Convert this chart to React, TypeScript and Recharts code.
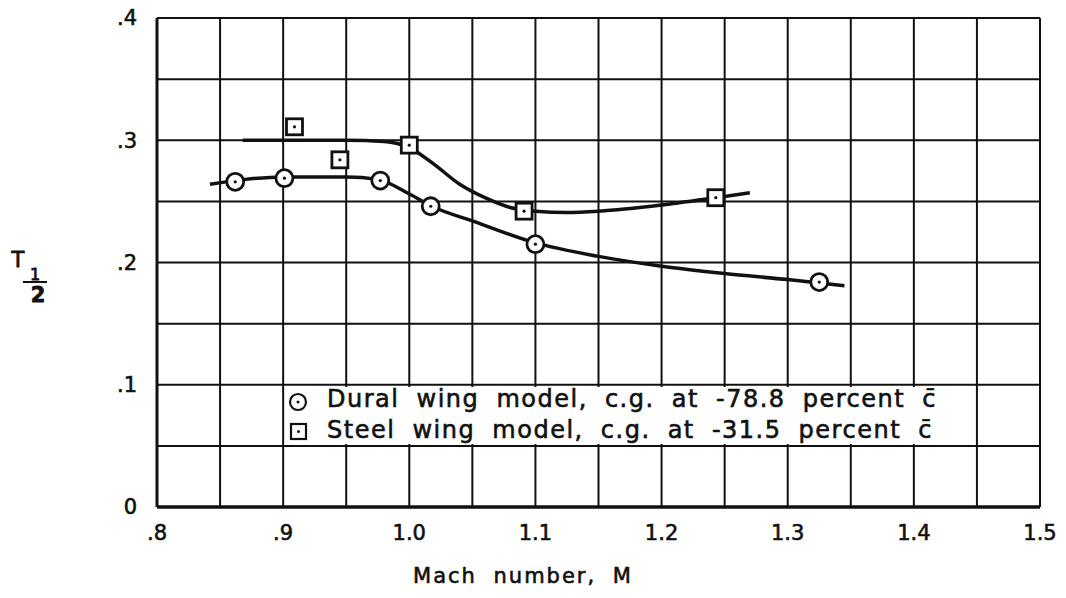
import { CartesianGrid, ComposedChart, Legend, Scatter, XAxis, YAxis } from "recharts";

// grid ticks every 0.05, labels on every other one
const machTicks = [0.8, 0.85, 0.9, 0.95, 1.0, 1.05, 1.1, 1.15, 1.2, 1.25, 1.3, 1.35, 1.4, 1.45, 1.5];
const machTickLabels = [".8", "", ".9", "", "1.0", "", "1.1", "", "1.2", "", "1.3", "", "1.4", "", "1.5"];
const tTicks = [0, 0.05, 0.1, 0.15, 0.2, 0.25, 0.3, 0.35, 0.4];
const tTickLabels = ["0", "", ".1", "", ".2", "", ".3", "", ".4"];

// test points
const duralMach = [0.862, 0.901, 0.977, 1.017, 1.1, 1.325];
const duralT = [0.266, 0.269, 0.267, 0.246, 0.215, 0.184];
const steelMach = [0.909, 0.945, 1.0, 1.091, 1.243];
const steelT = [0.311, 0.284, 0.296, 0.242, 0.253];

// faired curves
const duralCurveMach = [0.842, 0.87, 0.9, 0.95, 0.975, 1.0, 1.02, 1.05, 1.1, 1.15, 1.2, 1.25, 1.3, 1.345];
const duralCurveT = [0.264, 0.268, 0.27, 0.27, 0.268, 0.256, 0.245, 0.234, 0.216, 0.205, 0.197, 0.191, 0.186, 0.181];
const steelCurveMach = [0.868, 0.9, 0.95, 0.98, 1.0, 1.02, 1.04, 1.06, 1.08, 1.1, 1.125, 1.15, 1.2, 1.25, 1.27];
const steelCurveT = [0.3, 0.3, 0.3, 0.299, 0.294, 0.28, 0.264, 0.253, 0.245, 0.242, 0.241, 0.242, 0.247, 0.254, 0.257];

const FONT = "'DejaVu Sans', sans-serif";
const INK = "#111";

const toPoints = (xs: number[], ys: number[]) => xs.map((x, i) => ({ x, y: ys[i] }));

const duralPoints = toPoints(duralMach, duralT);
const steelPoints = toPoints(steelMach, steelT);
const duralCurve = toPoints(duralCurveMach, duralCurveT);
const steelCurve = toPoints(steelCurveMach, steelCurveT);

const tickStyle = { fontSize: 21, fill: INK, fontFamily: FONT, stroke: INK, strokeWidth: 0.6 };

function CircleMark(props: any) {
  const { cx, cy } = props;
  if (cx == null || cy == null) return <g />;
  return (
    <g>
      <circle cx={cx} cy={cy} r={8.5} fill="#fff" stroke={INK} strokeWidth={2.8} />
      <circle cx={cx} cy={cy} r={1.6} fill={INK} />
    </g>
  );
}

function SquareMark(props: any) {
  const { cx, cy } = props;
  if (cx == null || cy == null) return <g />;
  return (
    <g>
      <rect x={cx - 8} y={cy - 8} width={16} height={16} fill="#fff" stroke={INK} strokeWidth={2.8} />
      <circle cx={cx} cy={cy} r={1.6} fill={INK} />
    </g>
  );
}

function NoMark() {
  return <g />;
}

function YTitle() {
  return (
    <g fill={INK} fontFamily={FONT} stroke={INK} strokeWidth={0.8}>
      <text x={18} y={267} fontSize={21} textAnchor="middle">T</text>
      <text x={35} y={280} fontSize={16} textAnchor="middle">1</text>
      <line x1={23} x2={47} y1={282} y2={282} stroke={INK} strokeWidth={2} />
      <text x={38} y={302} fontSize={21} fontWeight="bold" textAnchor="middle">2</text>
    </g>
  );
}

function XTitle() {
  return (
    <text
      x={523}
      y={583}
      fill={INK}
      stroke={INK}
      strokeWidth={0.6}
      fontFamily={FONT}
      fontSize={21}
      textAnchor="middle"
      letterSpacing={2}
      wordSpacing={8}
    >
      Mach number, M
    </text>
  );
}

function LegendBox() {
  const row = { display: "flex", alignItems: "center", height: 31, whiteSpace: "nowrap" as const };
  const text = { letterSpacing: "1.5px", wordSpacing: "8px", WebkitTextStroke: "0.6px " + INK };
  return (
    <div style={{ fontFamily: FONT, fontSize: 24, color: INK, lineHeight: "31px", marginTop: -3 }}>
      <div style={row}>
        <svg width={41} height={24} style={{ flex: "none" }}>
          <circle cx={12} cy={14} r={8} fill="#fff" stroke={INK} strokeWidth={2.2} />
          <circle cx={12} cy={14} r={1.5} fill={INK} />
        </svg>
        <span style={text}>Dural wing model, c.g. at -78.8 percent c̄</span>
      </div>
      <div style={row}>
        <svg width={41} height={24} style={{ flex: "none" }}>
          <rect x={5} y={5} width={15} height={15} fill="#fff" stroke={INK} strokeWidth={2.2} />
          <circle cx={12.5} cy={12.5} r={1.5} fill={INK} />
        </svg>
        <span style={text}>Steel wing model, c.g. at -31.5 percent c̄</span>
      </div>
    </div>
  );
}

export default function App() {
  return (
    <div style={{ position: "absolute", left: 0, top: 0 }}>
      <ComposedChart width={1066} height={598} margin={{ top: 18, right: 26, bottom: 51, left: 97 }}>
        <CartesianGrid stroke={INK} strokeWidth={2} horizontal vertical />
        <XAxis
          type="number"
          dataKey="x"
          domain={[0.8, 1.5]}
          ticks={machTicks}
          interval={0}
          tickFormatter={(_v, i) => machTickLabels[i]}
          tick={tickStyle}
          tickLine={false}
          tickMargin={12}
          axisLine={{ stroke: INK, strokeWidth: 3.5 }}
          height={40}
          label={<XTitle />}
          allowDataOverflow
        />
        <YAxis
          type="number"
          dataKey="y"
          domain={[0, 0.4]}
          ticks={tTicks}
          interval={0}
          tickFormatter={(_v, i) => tTickLabels[i]}
          tick={tickStyle}
          tickLine={false}
          tickMargin={14}
          axisLine={{ stroke: INK, strokeWidth: 3 }}
          width={60}
          label={<YTitle />}
          allowDataOverflow
        />
        <Legend
          layout="horizontal"
          verticalAlign="middle"
          align="center"
          content={<LegendBox />}
          wrapperStyle={{ left: 286, top: 387, width: 660, height: 57, background: "#fff", paddingTop: 0 }}
        />
        <Scatter
          name="dural curve"
          data={duralCurve}
          line={{ stroke: INK, strokeWidth: 3.5 }}
          lineJointType="monotoneX"
          shape={<NoMark />}
          legendType="none"
          isAnimationActive={false}
        />
        <Scatter
          name="steel curve"
          data={steelCurve}
          line={{ stroke: INK, strokeWidth: 3.5 }}
          lineJointType="monotoneX"
          shape={<NoMark />}
          legendType="none"
          isAnimationActive={false}
        />
        <Scatter name="Dural" data={duralPoints} shape={<CircleMark />} isAnimationActive={false} />
        <Scatter name="Steel" data={steelPoints} shape={<SquareMark />} isAnimationActive={false} />
      </ComposedChart>
    </div>
  );
}
